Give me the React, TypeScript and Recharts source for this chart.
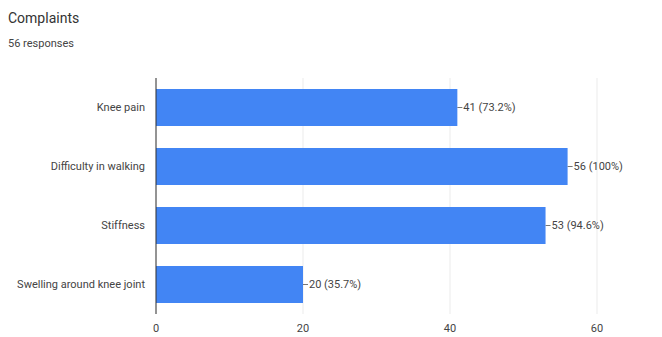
import { Bar, BarChart, CartesianGrid, LabelList, XAxis, YAxis } from "recharts";

const categories = ["Knee pain", "Difficulty in walking", "Stiffness", "Swelling around knee joint"];
const counts = [41, 56, 53, 20];
const percents = ["73.2%", "100%", "94.6%", "35.7%"];
const xTicks = [0, 20, 40, 60];

const data = categories.map((name, i) => ({ name, count: counts[i], pct: percents[i] }));

const FONT = "Roboto, Arial, sans-serif";
const TICK = { fill: "#444", fontSize: 11, fontFamily: FONT };

function CategoryTick(props: any) {
    const { x, y, payload } = props;
    return (
        <text x={x} y={y} dy="0.35em" textAnchor="end" fill="#444" fontSize={11} fontFamily={FONT}>
            {payload.value}
        </text>
    );
}

function ValueLabel(props: any) {
    const { x, y, width, height, index } = props;
    const end = x + width;
    const cy = y + height / 2;
    return (
        <g>
            <line x1={end} y1={cy} x2={end + 5} y2={cy} stroke="#777" strokeWidth={1} />
            <text x={end + 6} y={cy} dy="0.35em" fill="#444" fontSize={11} fontFamily={FONT}>
                {`${counts[index]} (${percents[index]})`}
            </text>
        </g>
    );
}

export default function App() {
    return (
        <div style={{ position: "absolute", left: 0, top: 0, width: 662, height: 337, background: "#fff" }}>
            <div style={{ position: "absolute", left: 8, top: 10, fontFamily: FONT, fontSize: 14, color: "#333" }}>
                Complaints
            </div>
            <div style={{ position: "absolute", left: 8, top: 37, fontFamily: FONT, fontSize: 11, color: "#444" }}>
                56 responses
            </div>
            <BarChart
                width={662}
                height={337}
                data={data}
                layout="vertical"
                margin={{ top: 78, right: 65, left: 0, bottom: 3 }}
                barSize={37}
                style={{ position: "absolute", left: 0, top: 0 }}
            >
                <CartesianGrid horizontal={false} stroke="#ebebeb" />
                <XAxis
                    type="number"
                    domain={[0, 60]}
                    ticks={xTicks}
                    tick={TICK}
                    axisLine={false}
                    tickLine={false}
                    tickSize={0}
                    tickMargin={10}
                    height={20}
                />
                <YAxis
                    type="category"
                    dataKey="name"
                    width={156}
                    tick={<CategoryTick />}
                    axisLine={{ stroke: "#333" }}
                    tickLine={false}
                    tickSize={0}
                    tickMargin={11}
                />
                <Bar dataKey="count" fill="#4285f4" isAnimationActive={false}>
                    <LabelList dataKey="count" content={ValueLabel} />
                </Bar>
            </BarChart>
        </div>
    );
}
